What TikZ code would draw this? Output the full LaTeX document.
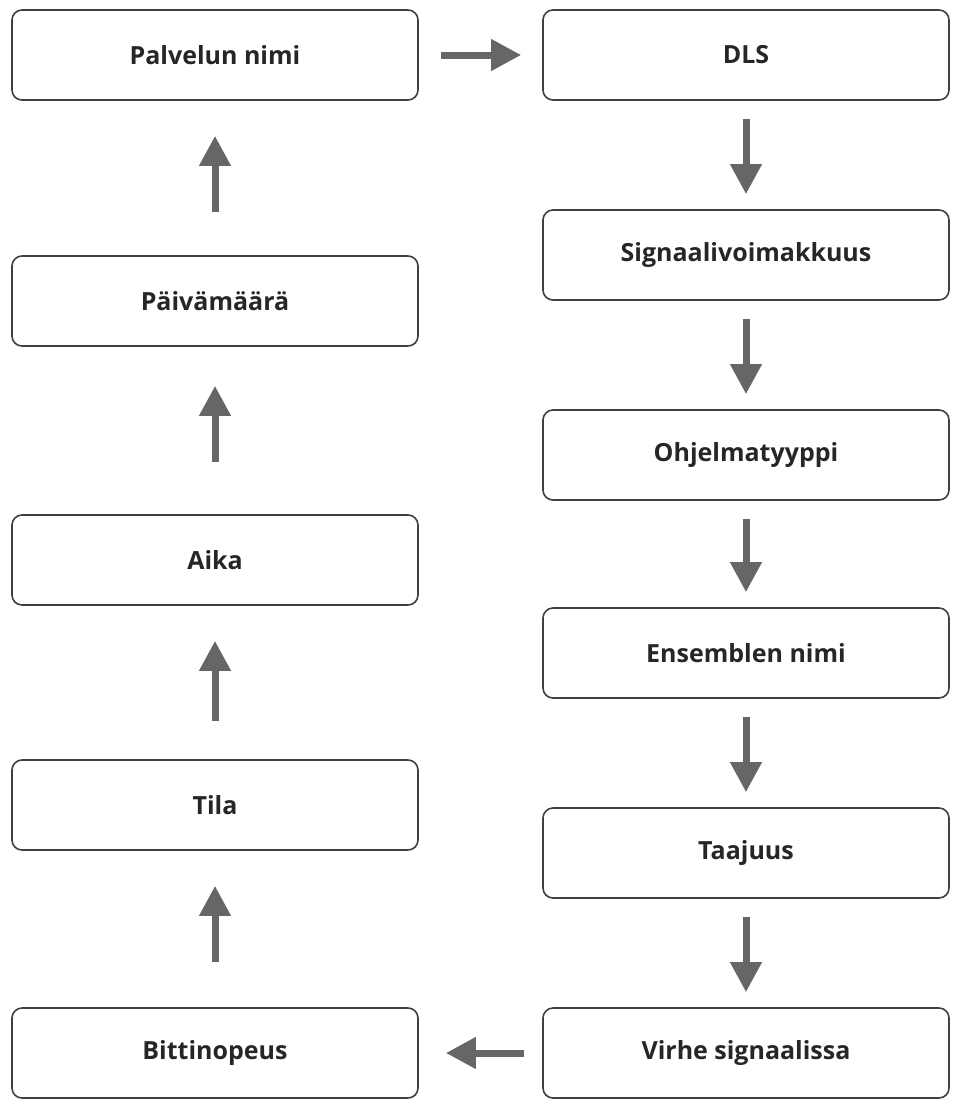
\documentclass[tikz,border=0pt]{standalone}
\usepackage{fontspec}
\setmainfont{Open Sans}
\usetikzlibrary{arrows.meta}
\begin{document}
\begin{tikzpicture}[x=1pt,y=-1pt,
 box/.style={draw=black!75,line width=1.6pt,rounded corners=10pt,minimum width=406pt,minimum height=90pt,font=\fontsize{25}{30}\selectfont\bfseries,text=black!85},
 arr/.style={draw=black!60,line width=7pt,-{Triangle[length=30pt,width=30pt]},color=black!60}]
\useasboundingbox (0,0) rectangle (962,1104);
\node[box] (pn) at (215,55) {Palvelun nimi};
\node[box] (pv) at (215,301) {Päivämäärä};
\node[box] (ai) at (215,560) {Aika};
\node[box] (ti) at (215,805) {Tila};
\node[box] (bi) at (215,1053) {Bittinopeus};
\node[box] (dl) at (746,55) {DLS};
\node[box] (si) at (746,255) {Signaalivoimakkuus};
\node[box] (oh) at (746,455) {Ohjelmatyyppi};
\node[box] (en) at (746,653) {Ensemblen nimi};
\node[box] (ta) at (746,853) {Taajuus};
\node[box] (vi) at (746,1053) {Virhe signaalissa};
\draw[arr,shorten <=22pt,shorten >=21pt] (pn) -- (dl);
\draw[arr,shorten <=18pt,shorten >=15pt] (dl) -- (si);
\draw[arr,shorten <=18pt,shorten >=15pt] (si) -- (oh);
\draw[arr,shorten <=18pt,shorten >=15pt] (oh) -- (en);
\draw[arr,shorten <=18pt,shorten >=15pt] (en) -- (ta);
\draw[arr,shorten <=18pt,shorten >=15pt] (ta) -- (vi);
\draw[arr,shorten <=18pt,shorten >=27pt] (vi) -- (bi);
\draw[arr,shorten <=43pt,shorten >=35pt] (pv) -- (pn);
\draw[arr,shorten <=52pt,shorten >=39pt] (ai) -- (pv);
\draw[arr,shorten <=38pt,shorten >=35pt] (ti) -- (ai);
\draw[arr,shorten <=45pt,shorten >=35pt] (bi) -- (ti);
\end{tikzpicture}
\end{document}
